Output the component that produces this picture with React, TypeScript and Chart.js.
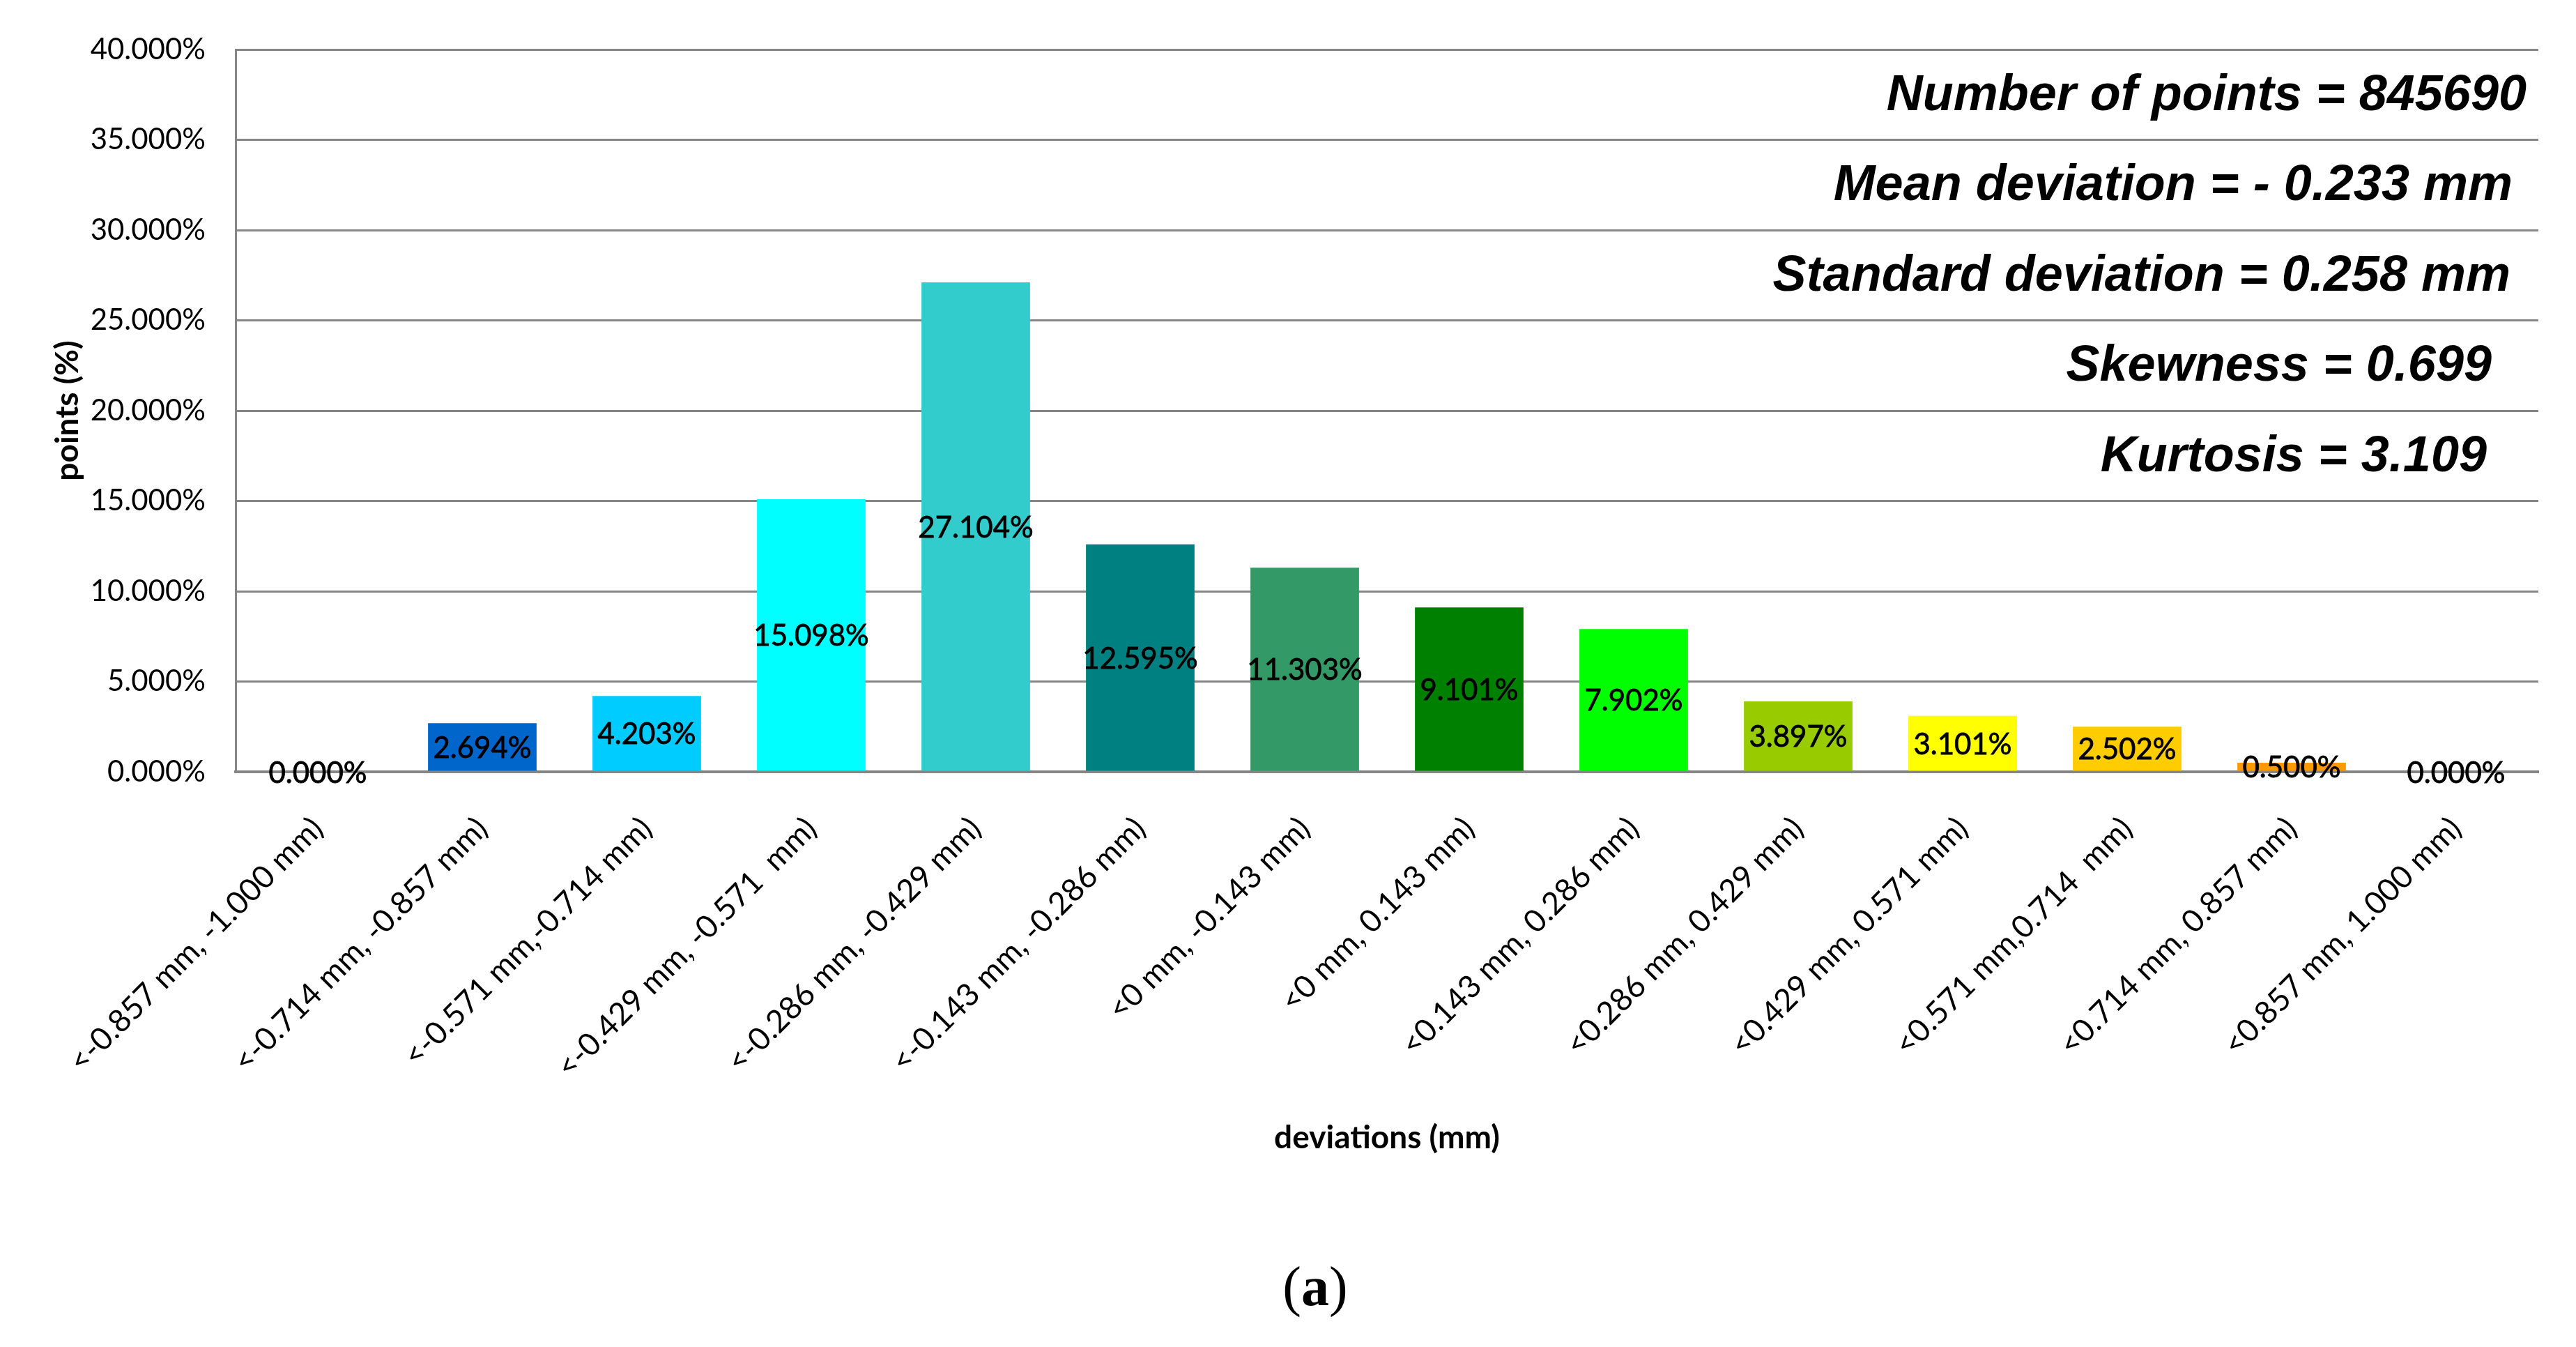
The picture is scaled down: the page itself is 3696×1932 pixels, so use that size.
import React, { useEffect, useRef } from "react";
import { Chart, registerables } from "chart.js";

Chart.register(...registerables);

const categories = [
  "<-0.857 mm, -1.000 mm)",
  "<-0.714 mm, -0.857 mm)",
  "<-0.571 mm,-0.714 mm)",
  "<-0.429 mm, -0.571  mm)",
  "<-0.286 mm, -0.429 mm)",
  "<-0.143 mm, -0.286 mm)",
  "<0 mm, -0.143 mm)",
  "<0 mm, 0.143 mm)",
  "<0.143 mm, 0.286 mm)",
  "<0.286 mm, 0.429 mm)",
  "<0.429 mm, 0.571 mm)",
  "<0.571 mm,0.714  mm)",
  "<0.714 mm, 0.857 mm)",
  "<0.857 mm, 1.000 mm)",
];

const pointShares = [0, 2.694, 4.203, 15.098, 27.104, 12.595, 11.303, 9.101, 7.902, 3.897, 3.101, 2.502, 0.5, 0];

const barColors = [
  "#003399",
  "#0066CC",
  "#00CCFF",
  "#00FFFF",
  "#33CCCC",
  "#008080",
  "#339966",
  "#008000",
  "#00FF00",
  "#99CC00",
  "#FFFF00",
  "#FFCC00",
  "#FF9900",
  "#FF6600",
];

const yMin = 0;
const yMax = 40;
const yStep = 5;

const statLines = [
  "Number of points = 845690",
  "Mean deviation = - 0.233 mm",
  "Standard deviation = 0.258 mm",
  "Skewness = 0.699",
  "Kurtosis = 3.109",
];

const xTitle = "deviations (mm)";
const yTitle = "points (%)";
const caption = "a";

const GRID = "#868686";

const dataLabelPlugin = {
  id: "dataLabels",
  afterDatasetsDraw(chart: any) {
    const ctx = chart.ctx;
    const meta = chart.getDatasetMeta(0);
    const values = chart.data.datasets[0].data as number[];
    ctx.save();
    ctx.font = "42px Lato";
    ctx.fillStyle = "#000000";
    ctx.strokeStyle = "#000000";
    ctx.lineWidth = 0.8;
    ctx.textAlign = "center";
    ctx.textBaseline = "middle";
    meta.data.forEach((bar: any, i: number) => {
      const y = (bar.y + bar.base) / 2 + 2;
      const txt = values[i].toFixed(3) + "%";
      ctx.fillText(txt, bar.x, y);
      ctx.strokeText(txt, bar.x, y);
    });
    ctx.restore();
  },
};

const statsPlugin = {
  id: "statsText",
  afterDraw(chart: any) {
    const ctx = chart.ctx;
    const yScale = chart.scales.y;
    const right = chart.chartArea.right;
    const rightInsets = [17, 37, 40, 67, 74];
    ctx.save();
    ctx.font = "italic bold 72px 'Liberation Sans'";
    ctx.fillStyle = "#000000";
    ctx.textAlign = "right";
    ctx.textBaseline = "middle";
    statLines.forEach((line, i) => {
      const level = yMax - yStep / 2 - i * yStep;
      ctx.fillText(line, right - rightInsets[i], yScale.getPixelForValue(level) + 2);
    });
    ctx.restore();
  },
};

export default function App() {
  const canvasRef = useRef<HTMLCanvasElement | null>(null);

  useEffect(() => {
    let chart: Chart | null = null;
    let cancelled = false;
    const make = () => {
      if (cancelled || !canvasRef.current) return;
      chart = new Chart(canvasRef.current, {
        type: "bar",
        data: {
          labels: categories,
          datasets: [
            {
              data: pointShares,
              backgroundColor: barColors,
              borderWidth: 0,
              barPercentage: 0.66,
              categoryPercentage: 1,
            },
          ],
        },
        options: {
          responsive: false,
          animation: false,
          devicePixelRatio: 1,
          layout: { padding: { left: 0, top: 71, right: 54, bottom: 0 } },
          plugins: {
            legend: { display: false },
            tooltip: { enabled: false },
            title: { display: false },
          },
          scales: {
            x: {
              grid: { display: false, drawTicks: false },
              border: { display: true, color: GRID, width: 4 },
              ticks: {
                autoSkip: false,
                minRotation: 45,
                maxRotation: 45,
                padding: 55,
                labelOffset: 0,
                color: "#000000",
                font: { family: "Lato", size: 45 },
              },
              title: {
                display: true,
                text: xTitle,
                color: "#000000",
                font: { family: "Lato", size: 46, weight: "bold" },
                padding: { top: 0, bottom: 272 },
              },
              afterFit: (scale: any) => {
                scale.height = 825;
              },
            },
            y: {
              min: yMin,
              max: yMax,
              ticks: {
                stepSize: yStep,
                padding: 43,
                color: "#000000",
                font: { family: "Lato", size: 42 },
                callback: (v: any) => Number(v).toFixed(3) + "%",
              },
              grid: { color: GRID, lineWidth: 3, drawTicks: false },
              border: { display: true, color: GRID, width: 3 },
              title: {
                display: true,
                text: yTitle,
                color: "#000000",
                font: { family: "Lato", size: 46, weight: "bold" },
                padding: { top: 70, bottom: 0 },
              },
              afterFit: (scale: any) => {
                scale.width = 338;
              },
            },
          },
        },
        plugins: [dataLabelPlugin, statsPlugin],
      });
    };
    const fontsReady = (document as any).fonts
      ? Promise.all([
          (document as any).fonts.load("42px Lato"),
          (document as any).fonts.load("bold 46px Lato"),
          (document as any).fonts.load("italic bold 72px 'Liberation Sans'"),
        ]).catch(() => null)
      : Promise.resolve(null);
    fontsReady.then(make);
    return () => {
      cancelled = true;
      if (chart) chart.destroy();
    };
  }, []);

  return (
    <div style={{ position: "absolute", left: 0, top: 0, width: 3696, height: 1932, background: "#ffffff" }}>
      <canvas ref={canvasRef} width={3696} height={1932} style={{ display: "block", width: 3696, height: 1932 }} />
      <div
        style={{
          position: "absolute",
          left: 1887,
          top: 1845,
          transform: "translate(-50%, -50%)",
          fontFamily: "'Liberation Serif', serif",
          fontSize: 80,
          lineHeight: 1,
          color: "#000000",
        }}
      >
        (<b>{caption}</b>)
      </div>
    </div>
  );
}
